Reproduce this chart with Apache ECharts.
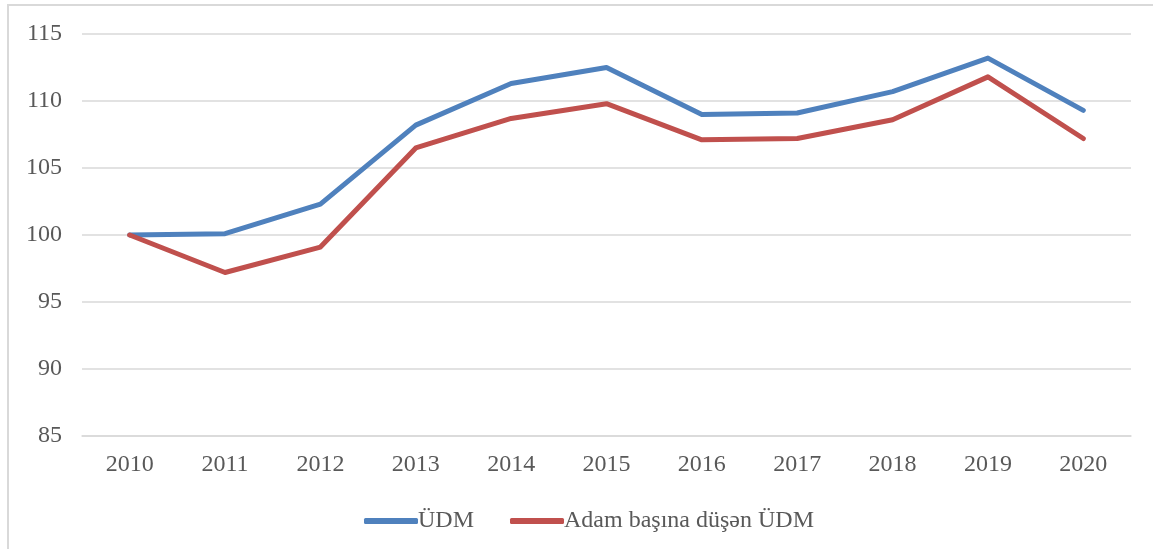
<!DOCTYPE html>
<html>
<head>
<meta charset="utf-8">
<script src="https://cdn.jsdelivr.net/npm/echarts@6/dist/echarts.min.js"></script>
<style>
html,body{margin:0;padding:0;background:#fff;}
#c{width:1153px;height:549px;}
</style>
</head>
<body>
<div id="c"></div>
<script>
const years = ['2010','2011','2012','2013','2014','2015','2016','2017','2018','2019','2020'];
const udm = [100, 100.1, 102.3, 108.2, 111.3, 112.5, 109.0, 109.1, 110.7, 113.2, 109.3];
const perCapita = [100, 97.2, 99.1, 106.5, 108.7, 109.8, 107.1, 107.2, 108.6, 111.8, 107.2];
const seriesNames = ['ÜDM', 'Adam başına düşən ÜDM'];

const font = '"Liberation Serif", "Times New Roman", serif';
const chart = echarts.init(document.getElementById('c'), null, {renderer: 'canvas'});
chart.setOption({
  backgroundColor: '#fff',
  animation: false,
  textStyle: {fontFamily: font},
  graphic: [{
    type: 'polyline',
    shape: {points: [[8, 549], [8, 5], [1153, 5]]},
    style: {stroke: '#d9d9d9', lineWidth: 2, fill: null},
    silent: true
  }],
  grid: {left: 82, top: 34, width: 1049, height: 402, containLabel: false},
  xAxis: {
    type: 'category',
    data: years,
    boundaryGap: true,
    axisLine: {show: true, lineStyle: {color: '#d9d9d9', width: 1.5}},
    axisTick: {show: false},
    axisLabel: {color: '#595959', fontSize: 24, fontFamily: font, margin: 17}
  },
  yAxis: {
    type: 'value',
    min: 85, max: 115, interval: 5,
    axisLine: {show: false},
    axisTick: {show: false},
    splitLine: {lineStyle: {color: '#d9d9d9', width: 1.5}},
    axisLabel: {color: '#595959', fontSize: 24, fontFamily: font, margin: 20}
  },
  legend: {
    data: seriesNames,
    top: 504,
    left: 359,
    icon: 'roundRect',
    itemWidth: 54,
    itemHeight: 6,
    itemGap: 36,
    textStyle: {color: '#595959', fontSize: 24, fontFamily: font, padding: [0,0,0,-5]}
  },
  series: [
    {name: seriesNames[0], type: 'line', data: udm, symbol: 'none',
     lineStyle: {color: '#4F81BD', width: 5, cap: 'round', join: 'round'},
     itemStyle: {color: '#4F81BD'}},
    {name: seriesNames[1], type: 'line', data: perCapita, symbol: 'none',
     lineStyle: {color: '#C0504D', width: 5, cap: 'round', join: 'round'},
     itemStyle: {color: '#C0504D'}}
  ]
});
</script>
</body>
</html>
